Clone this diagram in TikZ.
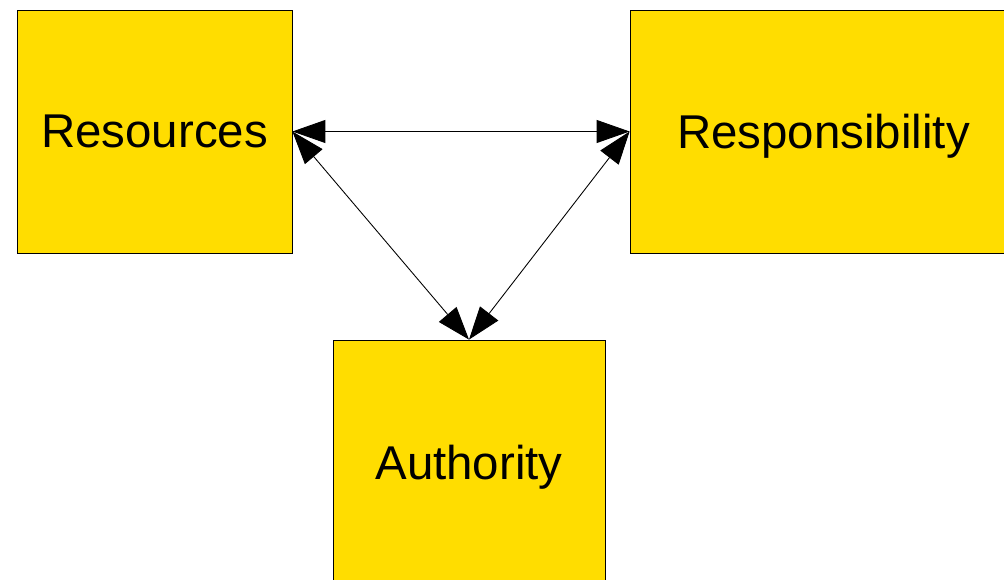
\documentclass[tikz,border=0pt]{standalone}
\usepackage{fontspec}
\setmainfont{Liberation Sans}
\usepackage{xcolor}
\usepackage{tikz}
\usetikzlibrary{arrows.meta}
\definecolor{boxyellow}{RGB}{255,221,0}

\begin{document}
\begin{tikzpicture}[x=0.02cm,y=-0.02cm,
    block/.style={draw=black,line width=0.5pt,fill=boxyellow,inner sep=0pt,
        text depth=0pt,font=\fontsize{27}{32}\selectfont},
    link/.style={line width=0.5pt,
        {Triangle[length=0.66cm,width=0.46cm]}-{Triangle[length=0.66cm,width=0.46cm]}}]
    \clip (0,0) rectangle (1004,580);
    \useasboundingbox (0,0) rectangle (1004,580);
    % Boxes
    \node[block,minimum width=5.5cm,minimum height=4.86cm] (res) at (154.5,131.5) {Resources};
    \node[block,minimum width=7.74cm,minimum height=4.86cm] (resp) at (823.5,131.5) {Responsibility};
    \node[block,minimum width=5.44cm,minimum height=4.88cm] (auth) at (469,462) {Authority};
    % Arrows
    \draw[link] (res.east) -- (resp.west);
    \draw[link] (res.east) -- (auth.north);
    \draw[link] (resp.west) -- (auth.north);
\end{tikzpicture}
\end{document}
